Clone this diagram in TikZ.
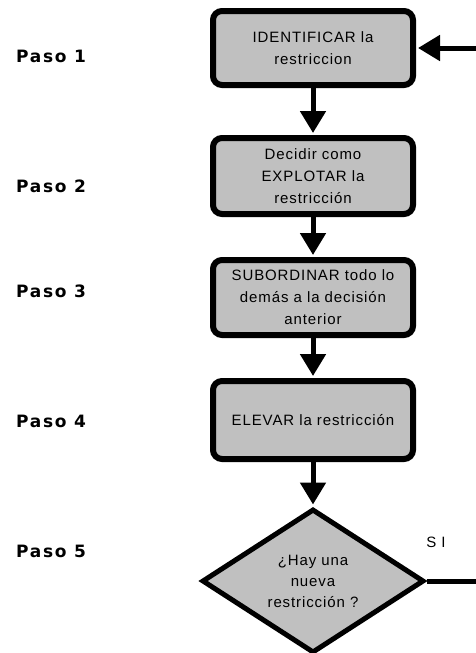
\documentclass[tikz,border=0pt]{standalone}
\usepackage{fontspec}
\newfontfamily\boxfont{Liberation Sans}[LetterSpace=6]
\newfontfamily\pasofont{DejaVu Sans}[LetterSpace=10]
\usetikzlibrary{arrows.meta,shapes.geometric}
\definecolor{boxgray}{HTML}{C0C0C0}
\begin{document}
\begin{tikzpicture}[x=1pt,y=-1pt,
  stepbox/.style={draw=black, line width=6pt, fill=boxgray, rounded corners=9pt,
    minimum width=200pt, inner sep=0pt, align=center,
    font=\boxfont\fontsize{15}{22}\selectfont},
  decision/.style={diamond, aspect=1.55, draw=black, line width=5pt, fill=boxgray,
    minimum width=222pt, minimum height=144pt, inner sep=0pt, align=center,
    font=\boxfont\fontsize{15}{21}\selectfont},
  flow/.style={line width=5pt, shorten >=2pt, -{Triangle[length=22pt,width=25pt]}},
  plain/.style={line width=5pt},
  paso/.style={anchor=west, inner sep=0pt, font=\pasofont\bfseries\fontsize{17}{20}\selectfont},
  lbl/.style={inner sep=0pt, font=\boxfont\fontsize{15}{17}\selectfont}]
\useasboundingbox (0,0) rectangle (476,653);

\node[stepbox, minimum height=74pt] (b1) at (313,48) {IDENTIFICAR la\\restriccion};
\node[stepbox, minimum height=76pt] (b2) at (313,176) {Decidir como\\EXPLOTAR la\\restricción};
\node[stepbox, minimum height=75pt] (b3) at (313,297.5) {SUBORDINAR todo lo\\demás a la decisión\\anterior};
\node[stepbox, minimum height=78pt] (b4) at (313,420) {ELEVAR la restricción};
\node[decision] (d) at (313,581) {¿Hay una\\nueva\\restricción ?};

\node[paso] (p1) at (16,56) {Paso 1};
\node[paso] (p2) at (16,186) {Paso 2};
\node[paso] (p3) at (16,291) {Paso 3};
\node[paso] (p4) at (16,421) {Paso 4};
\node[paso] (p5) at (16,551) {Paso 5};

\node[lbl] (si) at (436,542) {S I};

\coordinate (r1) at (484,48);
\coordinate (r5) at (484,581);

\draw[flow] (b1.south) -- (b2.north);
\draw[flow] (b2.south) -- (b3.north);
\draw[flow] (b3.south) -- (b4.north);
\draw[flow] (b4.south) -- (d.north);
\draw[plain] (d.east) -- (r5);
\draw[flow] (r1) -- (b1.east);
\end{tikzpicture}
\end{document}
